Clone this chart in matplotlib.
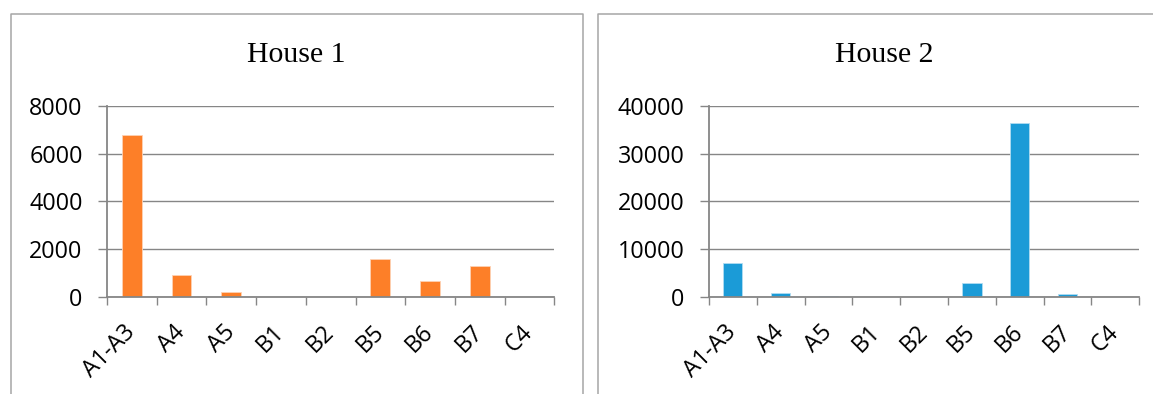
import matplotlib
matplotlib.use("Agg")
import matplotlib.pyplot as plt
from matplotlib.lines import Line2D
from matplotlib.ticker import FixedLocator, NullFormatter
import numpy as np

categories = ["A1-A3", "A4", "A5", "B1", "B2", "B5", "B6", "B7", "C4"]
house1 = [6760, 920, 195, 0, 0, 1610, 660, 1310, 0]
house2 = [7100, 900, 270, 0, 0, 2990, 36400, 700, 0]
house1_ticks = [0, 2000, 4000, 6000, 8000]
house2_ticks = [0, 10000, 20000, 30000, 40000]

W, H = 1153, 394
fig = plt.figure(figsize=(W / 100, H / 100), dpi=100)

GRID = "#868686"
FRAME = "#a6a6a6"
TICK_FONT = "Open Sans"
TITLE_FONT = "Liberation Serif"


def px(x, y):
    return x / W, 1 - y / H


# panel frames
for xs, ys in [
    ([11, 11, 583.5, 583.5], [H + 5, 14.3, 14.3, H + 5]),
    ([598.3, 598.3, W + 5], [H + 5, 14.3, 14.3]),
]:
    fx = [x / W for x in xs]
    fy = [1 - y / H for y in ys]
    fig.add_artist(Line2D(fx, fy, color=FRAME, lw=1.1, transform=fig.transFigure))


def panel(rect, values, ticks, color, edge, title, title_x):
    ax = fig.add_axes(rect)
    n = len(categories)
    x = np.arange(n)
    ax.bar(x, values, width=0.4, color=color, edgecolor=edge, linewidth=0.6, zorder=3)
    ax.set_xlim(-0.5, n - 0.5)
    ax.set_ylim(ticks[0], ticks[-1])
    ax.set_yticks(ticks)
    ax.set_yticklabels([str(t) for t in ticks], fontfamily=TICK_FONT, fontsize=16.8)
    ax.yaxis.grid(True, color=GRID, lw=1.0, zorder=1)
    ax.tick_params(axis="y", length=6.5, width=1.0, color=GRID, pad=11)

    ax.xaxis.set_major_locator(FixedLocator(x))
    ax.set_xticklabels(categories, fontfamily=TICK_FONT, fontsize=16.8,
                       rotation=45, ha="right", va="center", rotation_mode="anchor")
    ax.xaxis.set_minor_locator(FixedLocator(np.arange(n + 1) - 0.5))
    ax.xaxis.set_minor_formatter(NullFormatter())
    ax.tick_params(axis="x", which="major", length=0, pad=23)
    ax.tick_params(axis="x", which="minor", length=5.8, width=1.0, color=GRID)

    for s in ("top", "right"):
        ax.spines[s].set_visible(False)
    for s in ("left", "bottom"):
        ax.spines[s].set_color(GRID)
        ax.spines[s].set_linewidth(1.3)
        ax.spines[s].set_zorder(4)

    tx, ty = px(title_x, 55)
    fig.text(tx, ty, title, ha="center", va="center", fontfamily=TITLE_FONT, fontsize=21.5)
    return ax


y0 = 1 - 297 / H
hgt = (297 - 105.7) / H
panel([107 / W, y0, (554.3 - 107) / W, hgt], house1, house1_ticks,
      "#fd7f28", "#fed2b4", "House 1", 296)
panel([709 / W, y0, (1139.3 - 709) / W, hgt], house2, house2_ticks,
      "#1b9bd7", "#b0dcf2", "House 2", 884)

fig.savefig("out.png", dpi=100)
